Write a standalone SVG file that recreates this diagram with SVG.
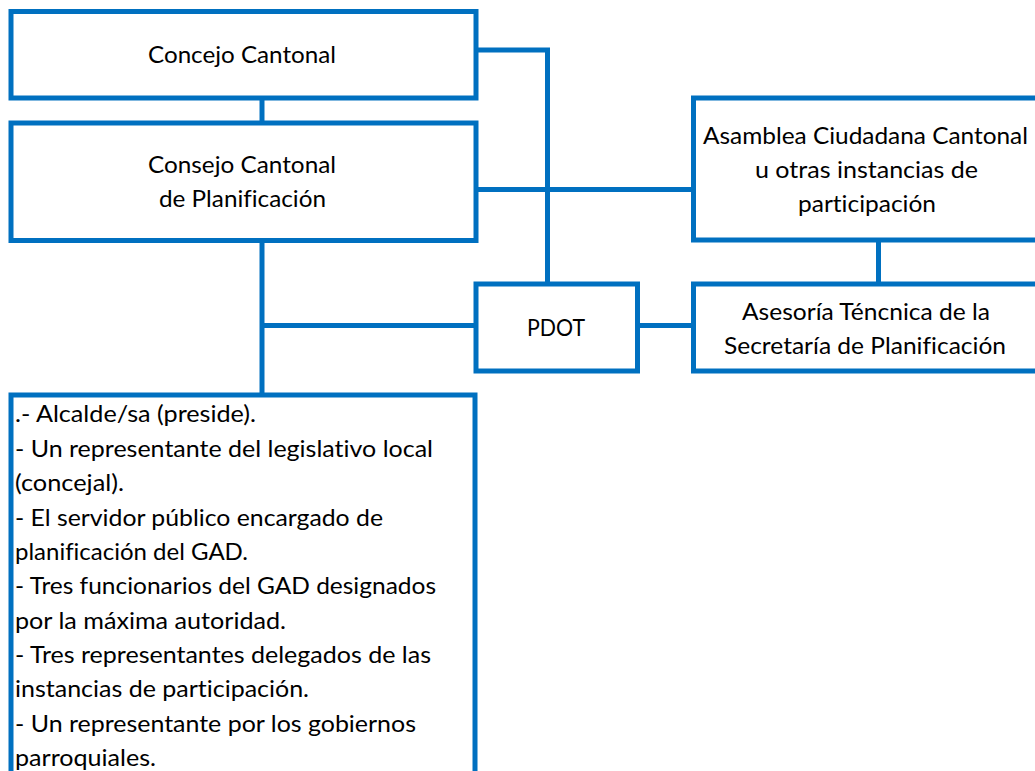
<svg xmlns="http://www.w3.org/2000/svg" width="1035" height="771" viewBox="0 0 1035 771">
<style>
.box{fill:#fff;stroke:#0070C0;stroke-width:5}
.ln{fill:none;stroke:#0070C0;stroke-width:5}
text{font-family:Lato,"Noto Sans",sans-serif;font-size:23px;fill:#000;font-variant-ligatures:none}
.c{text-anchor:middle}
</style>
<rect width="1035" height="771" fill="#fff"/>
<g id="connectors">
<line class="ln" x1="262" y1="98" x2="262" y2="123"/>
<line class="ln" x1="262" y1="240" x2="262" y2="395"/>
<line class="ln" x1="262" y1="325.5" x2="476" y2="325.5"/>
<polyline class="ln" points="476,50 547.5,50 547.5,284"/>
<line class="ln" x1="476" y1="189.5" x2="693.5" y2="189.5"/>
<line class="ln" x1="878.5" y1="240" x2="878.5" y2="284"/>
<line class="ln" x1="637.5" y1="325.5" x2="693.5" y2="325.5"/>
</g>
<g id="concejo">
<rect class="box" x="11" y="11.5" width="465" height="86.5"/>
<text class="c" x="242" y="63" textLength="188" lengthAdjust="spacingAndGlyphs">Concejo Cantonal</text>
</g>
<g id="consejo">
<rect class="box" x="11" y="123" width="465" height="117.5"/>
<text class="c" x="242" y="173" textLength="188" lengthAdjust="spacingAndGlyphs">Consejo Cantonal</text>
<text class="c" x="242.5" y="207" textLength="167" lengthAdjust="spacingAndGlyphs">de Planificación</text>
</g>
<g id="asamblea">
<rect class="box" x="693.5" y="98" width="350" height="142"/>
<text class="c" x="865.5" y="144" textLength="325" lengthAdjust="spacingAndGlyphs">Asamblea Ciudadana Cantonal</text>
<text class="c" x="866.5" y="178" textLength="223" lengthAdjust="spacingAndGlyphs">u otras instancias de</text>
<text class="c" x="867" y="212" textLength="138" lengthAdjust="spacingAndGlyphs">participación</text>
</g>
<g id="pdot">
<rect class="box" x="476" y="284" width="161.5" height="87"/>
<text class="c" x="556" y="336" textLength="58" lengthAdjust="spacingAndGlyphs">PDOT</text>
</g>
<g id="asesoria">
<rect class="box" x="693.5" y="284" width="350" height="87"/>
<text class="c" x="866" y="320" textLength="248" lengthAdjust="spacingAndGlyphs">Asesoría Téncnica de la</text>
<text class="c" x="865" y="354" textLength="282" lengthAdjust="spacingAndGlyphs">Secretaría de Planificación</text>
</g>
<g id="miembros">
<rect class="box" x="11" y="395" width="464" height="400"/>
<text x="15" y="422" textLength="241" lengthAdjust="spacingAndGlyphs">.- Alcalde/sa (preside).</text>
<text x="15" y="456.5" textLength="418" lengthAdjust="spacingAndGlyphs">- Un representante del legislativo local</text>
<text x="15" y="491" textLength="109" lengthAdjust="spacingAndGlyphs">(concejal).</text>
<text x="15" y="525.5" textLength="368" lengthAdjust="spacingAndGlyphs">- El servidor público encargado de</text>
<text x="15" y="560" textLength="233" lengthAdjust="spacingAndGlyphs">planificación del GAD.</text>
<text x="15" y="594" textLength="421" lengthAdjust="spacingAndGlyphs">- Tres funcionarios del GAD designados</text>
<text x="15" y="628.5" textLength="271" lengthAdjust="spacingAndGlyphs">por la máxima autoridad.</text>
<text x="15" y="663" textLength="416" lengthAdjust="spacingAndGlyphs">- Tres representantes delegados de las</text>
<text x="15" y="697" textLength="294" lengthAdjust="spacingAndGlyphs">instancias de participación.</text>
<text x="15" y="731.5" textLength="401" lengthAdjust="spacingAndGlyphs">- Un representante por los gobiernos</text>
<text x="15" y="765.5" textLength="141" lengthAdjust="spacingAndGlyphs">parroquiales.</text>
</g>
</svg>
